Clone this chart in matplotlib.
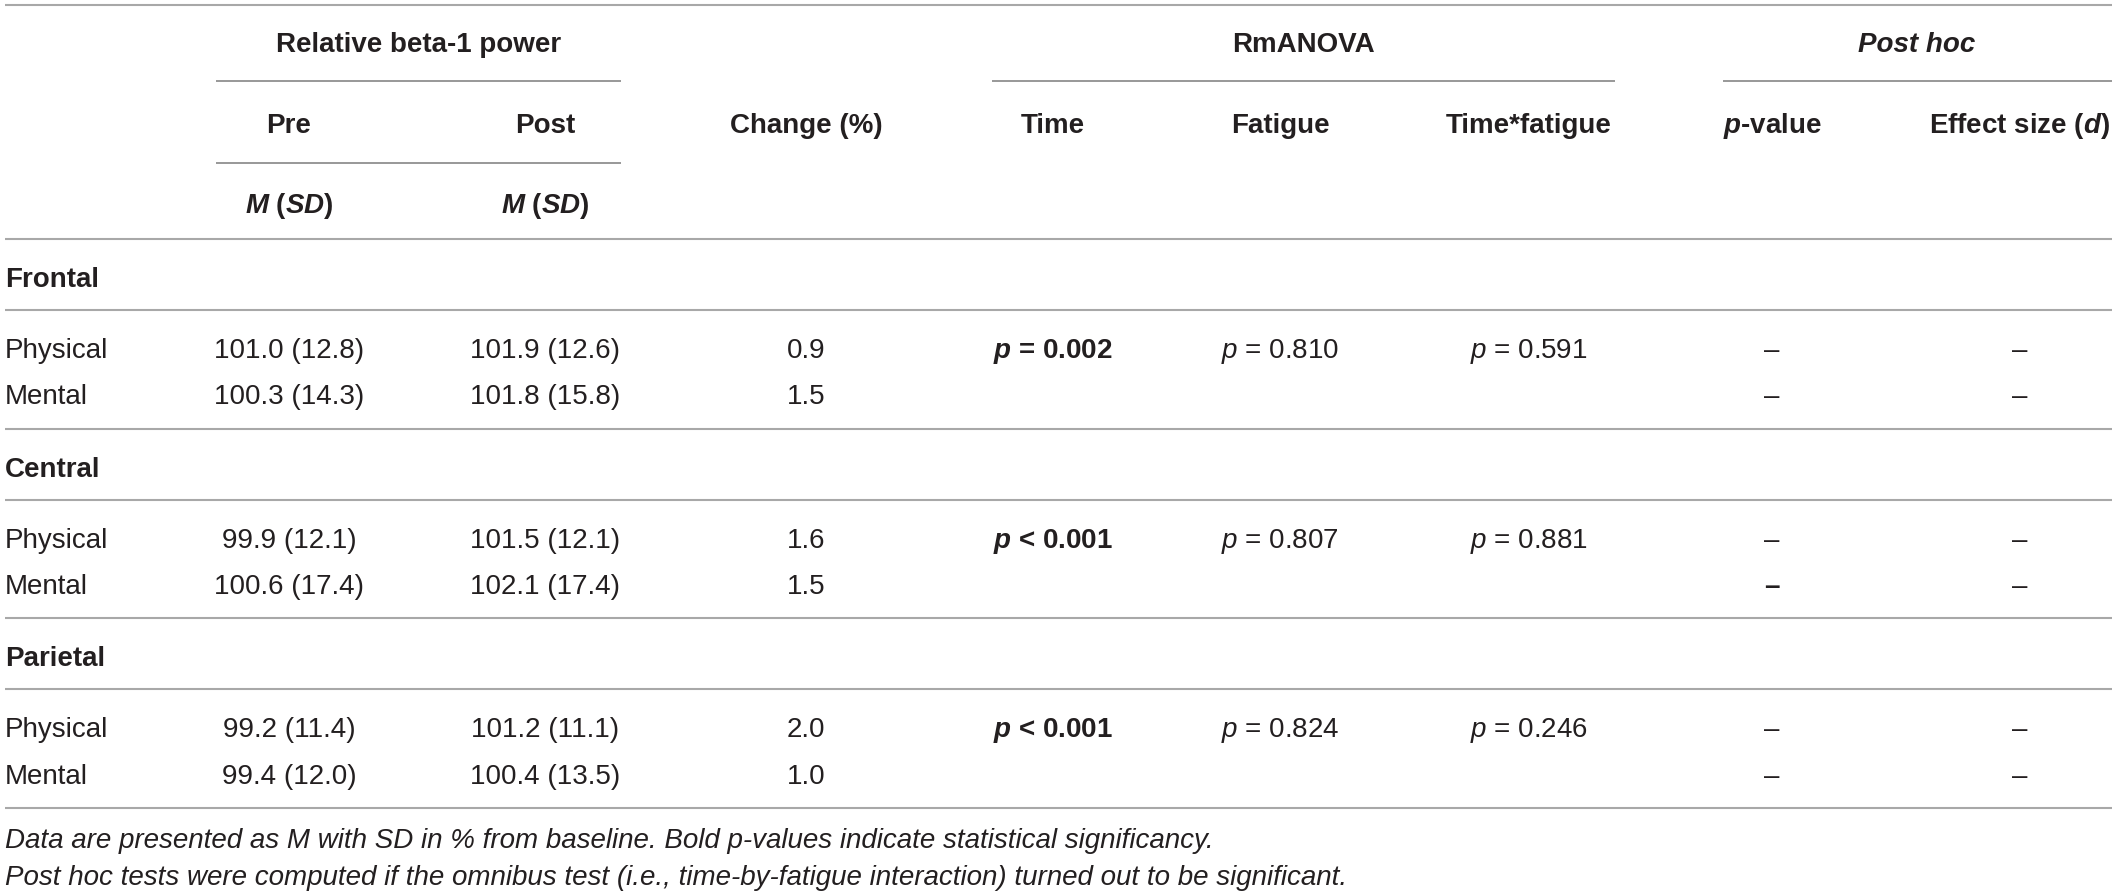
import matplotlib
matplotlib.use("Agg")
import matplotlib.pyplot as plt

# ---------------- data ----------------
regions = ["Frontal", "Central", "Parietal"]
conditions = ["Physical", "Mental"]
pre_mean = [[101.0, 100.3], [99.9, 100.6], [99.2, 99.4]]
pre_sd = [[12.8, 14.3], [12.1, 17.4], [11.4, 12.0]]
post_mean = [[101.9, 101.8], [101.5, 102.1], [101.2, 100.4]]
post_sd = [[12.6, 15.8], [12.1, 17.4], [11.1, 13.5]]
change_pct = [[0.9, 1.5], [1.6, 1.5], [2.0, 1.0]]
time_p = [("=", "0.002"), ("<", "0.001"), ("<", "0.001")]
fatigue_p = ["0.810", "0.807", "0.824"]
interaction_p = ["0.591", "0.881", "0.246"]
posthoc_p = [["–", "–"], ["–", "–"], ["–", "–"]]
posthoc_p_bold = [[False, False], [False, True], [False, False]]
effect_d = [["–", "–"], ["–", "–"], ["–", "–"]]
footnotes = [
    "Data are presented as M with SD in % from baseline. Bold p-values indicate statistical significancy.",
    "Post hoc tests were computed if the omnibus test (i.e., time-by-fatigue interaction) turned out to be significant.",
]

# ---------------- style ----------------
plt.rcParams["font.family"] = ["Liberation Sans", "DejaVu Sans"]
plt.rcParams["mathtext.fontset"] = "custom"
plt.rcParams["mathtext.rm"] = "Liberation Sans"
plt.rcParams["mathtext.it"] = "Liberation Sans:italic"
plt.rcParams["mathtext.bf"] = "Liberation Sans:bold"
plt.rcParams["mathtext.bfit"] = "Liberation Sans:bold:italic"

TXT = "#231f20"
FULL = "#a8a8a8"
SUB = "#7c7c7c"
FS = 20

W, H = 2117, 895
fig = plt.figure(figsize=(W / 100, H / 100), dpi=100)
ax = fig.add_axes([0, 0, 1, 1])
ax.set_xlim(0, W)
ax.set_ylim(H, 0)
ax.axis("off")

# column centres (layout)
x_label = 5
x_pre, x_post, x_chg = 289, 545, 806
x_time, x_fat, x_int = 1053, 1280, 1529
x_ph_p, x_ph_d = 1772, 2020
x_left, x_right = 5, 2112


def T(x, yc, s, ha="center", **kw):
    ax.text(x, yc + 10, s, ha=ha, va="baseline", fontsize=FS, color=TXT, **kw)


def hline(y, x0=x_left, x1=x_right, color=FULL, lw=1.5):
    ax.plot([x0, x1], [y, y], color=color, lw=lw, solid_capstyle="butt")


# ---------------- header ----------------
hline(6)
T((216 + 621) / 2, 42, "Relative beta-1 power", fontweight="bold")
T((992 + 1615) / 2, 42, "RmANOVA", fontweight="bold")
T(1917, 42, "Post hoc", fontweight="bold", fontstyle="italic")
hline(82, 216, 621, SUB, 1.1)
hline(82, 992, 1615, SUB, 1.1)
hline(82, 1723, 2112, SUB, 1.1)

T(x_pre, 123, "Pre", fontweight="bold")
T(x_post, 123, "Post", fontweight="bold")
T(x_chg, 123, "Change (%)", fontweight="bold")
T(x_time, 123, "Time", fontweight="bold")
T(x_fat, 123, "Fatigue", fontweight="bold")
T(x_int, 123, "Time*fatigue", fontweight="bold")
T(x_ph_p, 123, r"$\mathbfit{p}$-value", fontweight="bold")
T(x_ph_d, 123, r"Effect size ($\mathbfit{d}$)", fontweight="bold")
hline(164, 216, 621, SUB, 1.1)
T(x_pre, 203, r"$\mathbfit{M}$ ($\mathbfit{SD}$)", fontweight="bold")
T(x_post, 203, r"$\mathbfit{M}$ ($\mathbfit{SD}$)", fontweight="bold")
hline(240)

# ---------------- body ----------------
sec_top = 240
sec_h = 189.7
for r, region in enumerate(regions):
    y0 = sec_top + r * sec_h
    T(x_label, y0 + 37, region, ha="left", fontweight="bold")
    hline(y0 + 71)
    for c, cond in enumerate(conditions):
        yc = y0 + 108 + c * 46.5
        T(x_label, yc, cond, ha="left")
        T(x_pre, yc, f"{pre_mean[r][c]:.1f} ({pre_sd[r][c]:.1f})")
        T(x_post, yc, f"{post_mean[r][c]:.1f} ({post_sd[r][c]:.1f})")
        T(x_chg, yc, f"{change_pct[r][c]:.1f}")
        T(x_ph_p, yc, posthoc_p[r][c],
          fontweight="bold" if posthoc_p_bold[r][c] else "normal")
        T(x_ph_d, yc, effect_d[r][c])
    yc = y0 + 108
    op, val = time_p[r]
    T(x_time, yc, r"$\mathbfit{p}$ " + op + " " + val, fontweight="bold")
    T(x_fat, yc, r"$\mathit{p}$ = " + fatigue_p[r])
    T(x_int, yc, r"$\mathit{p}$ = " + interaction_p[r])
    hline(y0 + sec_h)

# ---------------- footnotes ----------------
for i, note in enumerate(footnotes):
    ax.text(x_label, 838 + 10 + i * 37, note, ha="left", va="baseline",
            fontsize=FS, color=TXT, fontstyle="italic")

fig.savefig("out.png", dpi=100)
